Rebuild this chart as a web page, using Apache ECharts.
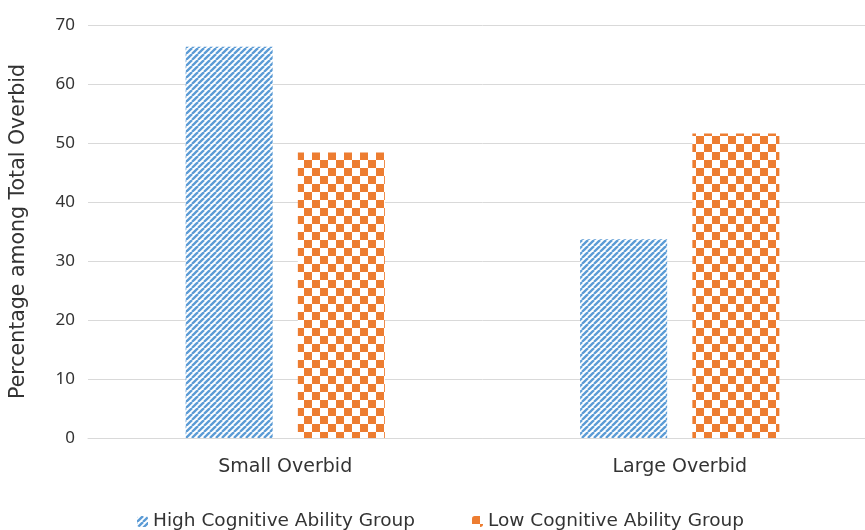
<!DOCTYPE html>
<html>
<head>
<meta charset="utf-8">
<script src="https://cdn.jsdelivr.net/npm/echarts@6/dist/echarts.min.js"></script>
<style>
  html, body { margin: 0; padding: 0; background: #fff; overflow: hidden; }
  #chart { width: 877px; height: 530px; }
</style>
</head>
<body>
<div id="chart"></div>
<script>
// Overbid share by cognitive ability group
const categories = ['Small Overbid', 'Large Overbid'];
const highGroup = [66.3, 33.7];
const lowGroup = [48.4, 51.6];
const seriesNames = ['High Cognitive Ability Group', 'Low Cognitive Ability Group'];

const BLUE = '#5b9bd5';
const ORANGE = '#ed7d31';
const TEXT = '#333333';
const FONT = 'DejaVu Sans';

// Diagonal "/" stripe tile
function stripeTile() {
  const s = 6;
  const c = document.createElement('canvas');
  c.width = s; c.height = s;
  const g = c.getContext('2d');
  g.fillStyle = '#fff';
  g.fillRect(0, 0, s, s);
  g.strokeStyle = BLUE;
  g.lineWidth = 2.3;
  for (let k = -1; k <= 1; k++) {
    g.beginPath();
    g.moveTo(k * s, s);
    g.lineTo(k * s + s, 0);
    g.stroke();
  }
  return c;
}

// Checkerboard tile
function checkerTile() {
  const q = 8;
  const c = document.createElement('canvas');
  c.width = q * 2; c.height = q * 2;
  const g = c.getContext('2d');
  g.fillStyle = '#fff';
  g.fillRect(0, 0, q * 2, q * 2);
  g.fillStyle = ORANGE;
  g.fillRect(0, 0, q, q);
  g.fillRect(q, q, q, q);
  return c;
}

const stripeFill = { image: stripeTile(), repeat: 'repeat' };
const checkerFill = { image: checkerTile(), repeat: 'repeat' };

const legendBase = {
  top: 507,
  itemWidth: 11,
  itemHeight: 11,
  textStyle: { fontFamily: FONT, fontSize: 18.5, color: TEXT }
};

const chart = echarts.init(document.getElementById('chart'), null, { renderer: 'canvas' });
chart.setOption({
  animation: false,
  backgroundColor: '#fff',
  textStyle: { fontFamily: FONT },
  grid: { left: 87, right: 0, top: 25, bottom: 92, containLabel: false },
  legend: [
    Object.assign({ left: 132, data: [seriesNames[0]] }, legendBase),
    Object.assign({ left: 467, data: [seriesNames[1]] }, legendBase)
  ],
  xAxis: {
    type: 'category',
    data: categories,
    axisLine: { lineStyle: { color: '#d9d9d9', width: 1 } },
    axisTick: { show: false },
    axisLabel: { fontFamily: FONT, fontSize: 19, color: TEXT, margin: 20 }
  },
  yAxis: {
    type: 'value',
    min: 0,
    max: 70,
    interval: 10,
    name: 'Percentage among Total Overbid',
    nameLocation: 'middle',
    nameGap: 59,
    nameTextStyle: { fontFamily: FONT, fontSize: 20.5, color: TEXT },
    axisLine: { show: false },
    axisTick: { show: false },
    axisLabel: { fontFamily: 'Noto Sans', fontSize: 17, color: TEXT, margin: 13 },
    splitLine: { lineStyle: { color: '#d9d9d9', width: 1 } }
  },
  series: [
    {
      name: seriesNames[0],
      type: 'bar',
      data: highGroup,
      barWidth: 87,
      barGap: '29%',
      itemStyle: { color: stripeFill }
    },
    {
      name: seriesNames[1],
      type: 'bar',
      data: lowGroup,
      barWidth: 87,
      barGap: '29%',
      itemStyle: { color: checkerFill }
    }
  ]
});
</script>
</body>
</html>
